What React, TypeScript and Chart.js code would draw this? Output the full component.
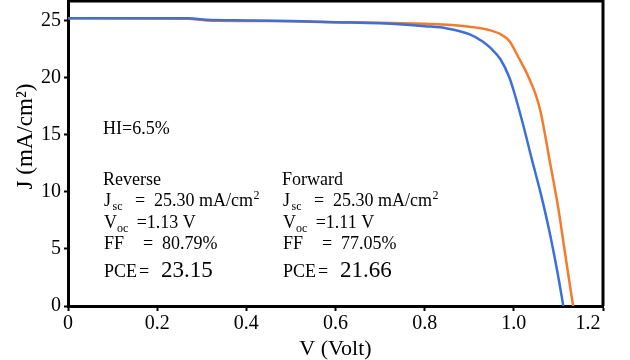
import React, { useEffect, useRef } from "react";
import { Chart, registerables } from "chart.js";

Chart.register(...registerables);

// ---- Data ----
const V_REVERSE = [0, 0.27, 0.31, 0.45, 0.6, 0.7, 0.8, 0.86, 0.9, 0.94, 0.97, 0.99, 1.01, 1.03, 1.05, 1.06, 1.07, 1.08, 1.09, 1.1, 1.11, 1.12, 1.133];
const J_REVERSE = [25.2, 25.15, 25.0, 24.95, 24.85, 24.8, 24.7, 24.6, 24.45, 24.2, 23.8, 23.2, 21.8, 20.3, 18.4, 17.0, 15.0, 12.8, 10.7, 8.5, 5.9, 3.3, 0];

const V_FORWARD = [0, 0.2, 0.27, 0.31, 0.4, 0.5, 0.6, 0.7, 0.75, 0.8, 0.85, 0.9, 0.93, 0.95, 0.97, 0.99, 1.0, 1.02, 1.04, 1.06, 1.08, 1.1, 1.111];
const J_FORWARD = [25.2, 25.2, 25.2, 25.05, 25.0, 24.95, 24.85, 24.75, 24.65, 24.5, 24.3, 23.8, 23.15, 22.5, 21.6, 20.0, 18.8, 16.0, 12.9, 9.9, 6.5, 2.5, 0];

const X_TICKS = [0, 0.2, 0.4, 0.6, 0.8, 1.0, 1.2];
const X_TICK_LABELS = ["0", "0.2", "0.4", "0.6", "0.8", "1.0", "1.2\u2003\u2002"];
const Y_TICK_LABELS = ["0", "5", "10", "15", "20", "25"];

const SERIES_NAMES = ["Reverse", "Forward"];
const JSC_VALUES = ["25.30", "25.30"];
const VOC_VALUES = ["1.13", "1.11"];
const FF_VALUES = ["80.79%", "77.05%"];
const PCE_VALUES = ["23.15", "21.66"];
const HI_TEXT = "HI=6.5%";

const X_TITLE = "V (Volt)";
const Y_TITLE = "J (mA/cm\u00B2)";

const ORANGE = "#F47A2C";
const BLUE = "#3C6FD8";
const FONT = '"Liberation Serif", "Times New Roman", serif';

const annotPlugin = {
  id: "annot",
  afterDraw(chart: any) {
    const { ctx, chartArea: ca } = chart;
    ctx.save();
    // frame: top and right sides
    ctx.strokeStyle = "#000";
    ctx.lineWidth = 3;
    ctx.beginPath();
    ctx.moveTo(ca.left, ca.top);
    ctx.lineTo(ca.right, ca.top);
    ctx.lineTo(ca.right, ca.bottom);
    ctx.stroke();

    ctx.fillStyle = "#000";
    ctx.textBaseline = "alphabetic";
    ctx.textAlign = "left";
    const t = (s: string, x: number, y: number, size: number) => {
      ctx.font = `${size}px ${FONT}`;
      ctx.fillText(s, x, y);
      return ctx.measureText(s).width;
    };

    t(HI_TEXT, 103, 134, 18);

    const colX = [103, 282];
    for (let i = 0; i < 2; i++) {
      const x = colX[i];
      t(SERIES_NAMES[i], x, 185, 18);
      // Jsc
      t("J", x + 1, 206, 18);
      t("sc", x + 9.5, 210, 12);
      t("=", x + 32, 206, 18);
      const w = t(`${JSC_VALUES[i]} mA/cm`, x + 51, 206, 18);
      t("2", x + 51 + w + 0.5, 199, 12);
      // Voc
      t("V", x + 1, 228, 18);
      t("oc", x + 14, 232, 12);
      t(`=${VOC_VALUES[i]} V`, x + 33.7, 228, 18);
      // FF
      t("FF", x + 1, 249, 18);
      t("=", x + 40, 249, 18);
      t(FF_VALUES[i], x + 59, 249, 18);
      // PCE
      t("PCE", x + 1, 277, 18);
      t("=", x + 36, 277, 18);
      t(PCE_VALUES[i], x + 58, 277, 23);
    }

    // axis titles
    ctx.textAlign = "center";
    ctx.font = `22px ${FONT}`;
    ctx.fillText(X_TITLE, (ca.left + ca.right) / 2, 355);

    ctx.save();
    ctx.translate(32, 136.5);
    ctx.rotate(-Math.PI / 2);
    ctx.font = `23px ${FONT}`;
    ctx.fillText(Y_TITLE, 0, 0);
    ctx.restore();

    ctx.restore();
  },
};

export default function App() {
  const ref = useRef<HTMLCanvasElement>(null);

  useEffect(() => {
    if (!ref.current) return;
    const chart = new Chart(ref.current, {
      type: "line",
      data: {
        datasets: [
          {
            label: "Forward",
            data: V_FORWARD.map((v, i) => ({ x: v, y: J_FORWARD[i] })),
            borderColor: BLUE,
            borderWidth: 2.5,
            pointRadius: 0,
            fill: false,
            cubicInterpolationMode: "monotone",
            order: 0,
          },
          {
            label: "Reverse",
            data: V_REVERSE.map((v, i) => ({ x: v, y: J_REVERSE[i] })),
            borderColor: ORANGE,
            borderWidth: 2.5,
            pointRadius: 0,
            fill: false,
            cubicInterpolationMode: "monotone",
            order: 1,
          },
        ],
      },
      options: {
        animation: false,
        responsive: false,
        layout: { padding: { top: 1, right: 27, left: 0, bottom: 0 } },
        plugins: { legend: { display: false }, tooltip: { enabled: false } },
        scales: {
          x: {
            type: "linear",
            min: 0,
            max: 1.2,
            afterFit(s: any) {
              s.height = 54;
              s.paddingLeft = 0;
              s.paddingRight = 0;
            },
            afterBuildTicks(s: any) {
              s.ticks = X_TICKS.map((v) => ({ value: v }));
            },
            ticks: {
              callback: (v: any) => X_TICK_LABELS[Math.round(Number(v) / 0.2)],
              font: { family: FONT, size: 20 },
              color: "#000",
              padding: 1,
              maxRotation: 0,
              autoSkip: false,
            },
            grid: { drawOnChartArea: false, drawTicks: true, tickLength: 5, tickColor: "#000", tickWidth: 2 },
            border: { color: "#000", width: 3 },
          },
          y: {
            type: "linear",
            min: 0,
            max: 26.7,
            afterFit(s: any) {
              s.width = 68;
              s.paddingTop = 0;
              s.paddingBottom = 0;
            },
            afterBuildTicks(s: any) {
              s.ticks = Y_TICK_LABELS.map((l) => ({ value: Number(l) }));
            },
            ticks: {
              callback: (v: any) => Y_TICK_LABELS[Math.round(Number(v) / 5)],
              font: { family: FONT, size: 20 },
              color: "#000",
              padding: 3,
            },
            grid: { drawOnChartArea: false, drawTicks: true, tickLength: 4, tickColor: "#000", tickWidth: 2 },
            border: { color: "#000", width: 3 },
          },
        },
      },
      plugins: [annotPlugin],
    } as any);
    return () => chart.destroy();
  }, []);

  return (
    <div style={{ position: "absolute", left: 0, top: 0, width: 630, height: 360 }}>
      <canvas ref={ref} width={630} height={360} style={{ display: "block" }} />
    </div>
  );
}
